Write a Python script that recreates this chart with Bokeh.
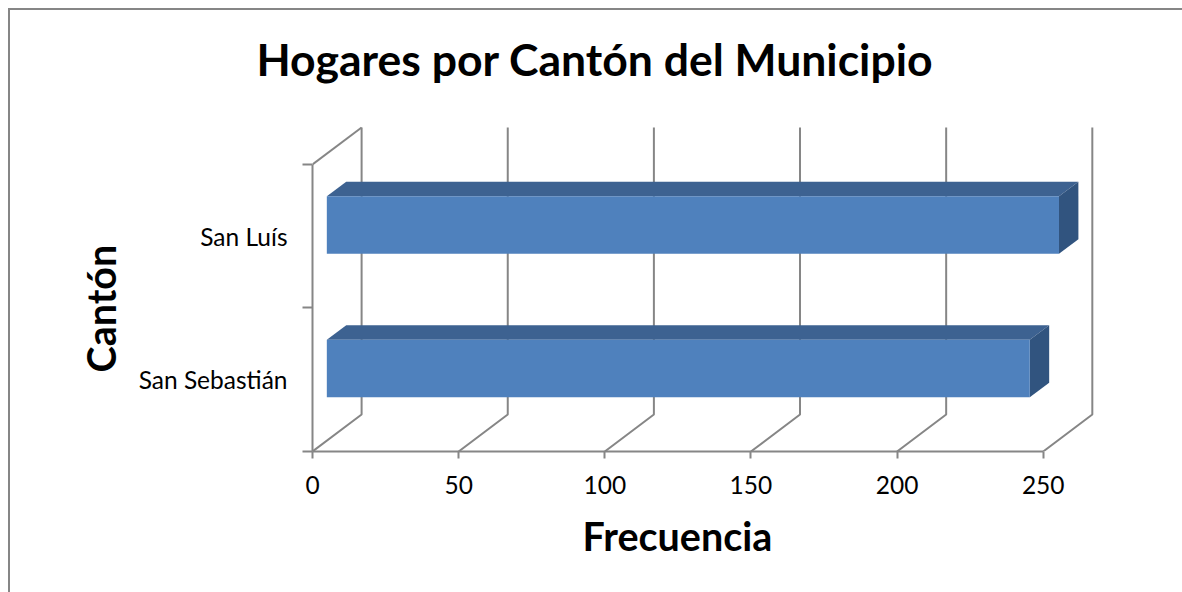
from bokeh.plotting import figure
from bokeh.models import Range1d, LinearAxis, FixedTicker, Title
from bokeh.embed import file_html
from bokeh.resources import INLINE

categories = ["San Sebastián", "San Luís"]
frecuencia = [240.5, 250.5]
x_ticks = [0, 50, 100, 150, 200, 250]
title_text = "Hogares por Cantón del Municipio"
x_title = "Frecuencia"
y_title = "Cantón"

FONT = "Lato"
GRAY = "#868686"
FRONT, TOP, SIDE = "#4F81BD", "#3D6291", "#31547F"

# pseudo-3D geometry in data units
WALL_DX, WALL_DY = 16.8, 0.258
BAR_DX, BAR_DY = 6.64, 0.101
BAR_X0, BAR_LOW, BAR_HIGH = 4.9, 0.378, 0.778
N = len(categories)

p = figure(width=1174, height=584, output_backend="svg", toolbar_location=None,
           x_axis_type=None, y_axis_type=None,
           x_range=Range1d(0, 269.6), y_range=Range1d(0, 2.3972),
           frame_width=788, frame_height=344,
           min_border_left=302, min_border_right=82, min_border_top=97, min_border_bottom=141,
           background_fill_color="white", border_fill_color="white",
           margin=(8, 0, 0, 8))
p.outline_line_color = None
p.grid.visible = False
p.styles = {"border-top": f"2px solid {GRAY}", "border-left": f"2px solid {GRAY}",
            "border-right": f"2px solid {GRAY}", "box-sizing": "border-box"}

p.title = Title(text=title_text, align="left", text_font=FONT, text_font_size="44.5px",
                text_font_style="bold", text_color="black", standoff=42, offset=-56,
                vertical_align="top")

# walls and floor
wx = [[t, t + WALL_DX, t + WALL_DX] for t in x_ticks]
wy = [[0, WALL_DY, N + WALL_DY] for _ in x_ticks]
p.multi_line(wx, wy, line_color=GRAY, line_width=2)
p.line([0, WALL_DX], [N, N + WALL_DY], line_color=GRAY, line_width=2)

# bars
for i, v in enumerate(frecuencia):
    lo, hi = i + BAR_LOW, i + BAR_HIGH
    end = BAR_X0 + v
    p.patch([BAR_X0, BAR_X0 + BAR_DX, end + BAR_DX, end], [hi, hi + BAR_DY, hi + BAR_DY, hi],
            fill_color=TOP, line_color=None)
    p.patch([end, end + BAR_DX, end + BAR_DX, end], [lo, lo + BAR_DY, hi + BAR_DY, hi],
            fill_color=SIDE, line_color=None)
    p.quad(left=[BAR_X0], right=[end], bottom=[lo], top=[hi], fill_color=FRONT, line_color=None)

xa = LinearAxis(ticker=FixedTicker(ticks=x_ticks), bounds=(0, 250))
xa.axis_line_color = GRAY
xa.axis_line_width = 2
xa.major_tick_line_color = GRAY
xa.major_tick_line_width = 2
xa.major_tick_in = 0
xa.major_tick_out = 7
xa.minor_tick_line_color = None
xa.major_label_text_font = FONT
xa.major_label_text_font_size = "24.5px"
xa.major_label_text_color = "black"
xa.major_label_standoff = 17
p.add_layout(xa, "below")
p.add_layout(Title(text=x_title, align="left", offset=270, standoff=27, text_font=FONT,
                   text_font_size="39.5px", text_font_style="bold", text_color="black"), "below")

label_pos = [0.5, 1.5]
ya = LinearAxis(ticker=FixedTicker(ticks=label_pos, minor_ticks=list(range(N + 1))), bounds=(0, N))
ya.major_label_overrides = dict(zip(label_pos, categories))
ya.axis_line_color = GRAY
ya.axis_line_width = 2
ya.major_tick_line_color = None
ya.major_tick_in = 0
ya.major_tick_out = 0
ya.minor_tick_line_color = GRAY
ya.minor_tick_line_width = 2
ya.minor_tick_in = 0
ya.minor_tick_out = 10
ya.major_label_text_font = FONT
ya.major_label_text_font_size = "24.5px"
ya.major_label_text_color = "black"
ya.major_label_standoff = 15
p.add_layout(ya, "left")
p.add_layout(Title(text=y_title, align="left", offset=79, standoff=24, text_font=FONT,
                   text_font_size="39.5px", text_font_style="bold", text_color="black"), "left")

open("out.html", "w").write(file_html(p, INLINE))
